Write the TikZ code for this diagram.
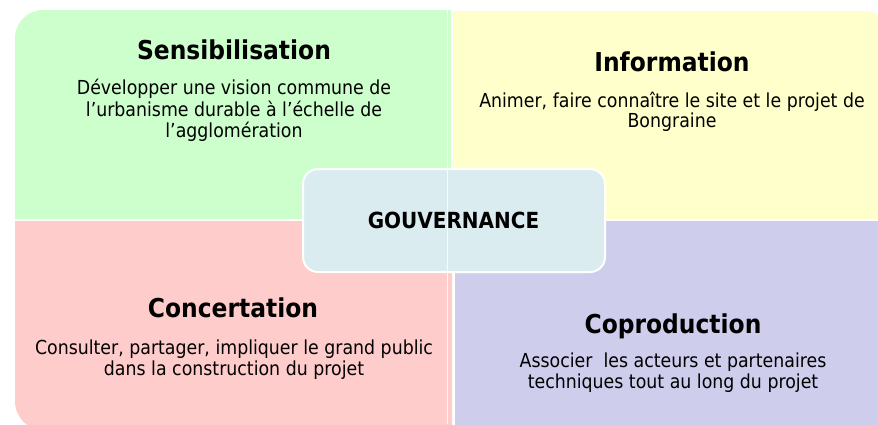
\documentclass[tikz,border=0pt]{standalone}
\usepackage{fontspec}
\setmainfont{DejaVu Sans}[FakeStretch=0.9]
\definecolor{qgreen}{HTML}{CCFFCC}
\definecolor{qyellow}{HTML}{FFFFCC}
\definecolor{qred}{HTML}{FFCCCC}
\definecolor{qpurple}{HTML}{CFCDEC}
\definecolor{qcenter}{HTML}{DAECEF}
\tikzset{
  title/.style={font=\bfseries\fontsize{26}{30}\selectfont, inner sep=0pt, anchor=base},
  body/.style={font=\fontsize{19.3}{21}\selectfont, inner sep=0pt, align=center, anchor=base},
  govbox/.style={draw=white, line width=2pt, fill=qcenter, rounded corners=15pt,
    minimum width=302pt, minimum height=103pt, inner sep=0pt},
  govtext/.style={font=\bfseries\fontsize{22.2}{24}\selectfont, inner sep=0pt, anchor=base},
}
\begin{document}
\begin{tikzpicture}[x=1pt,y=-1pt]
\useasboundingbox (0,0) rectangle (878,424);
\clip (0,0) rectangle (878,424);
\fill[white] (0,0) rectangle (878,424);
% quadrants
\fill[qgreen] (15,219) [rounded corners=28pt]-- (15,10) [sharp corners]-- (451,10) -- (451,219) -- cycle;
\fill[qyellow] (453,11) [rounded corners=15pt]-- (881,11) [sharp corners]-- (881,219) -- (453,219) -- cycle;
\fill[qred] (15,221) -- (452,221) -- (452,431) [rounded corners=30pt]-- (15,431) [sharp corners]-- cycle;
\fill[qpurple] (455,221) rectangle (890,440);
% centre
\node[govbox] (gov) at (454,220.5) {};
\draw[white, opacity=0.8, line width=0.8pt] (447,10) -- (447,424);
\node[govtext] (govlabel) at (453.5,228) {GOUVERNANCE};
% texts
\node[title] (t1) at (234,59) {Sensibilisation};
\node[body] (b1a) at (234,94) {Développer une vision commune de};
\node[body] (b1b) at (234,116) {l’urbanisme durable à l’échelle de};
\node[body] (b1c) at (234,137) {l’agglomération};
\node[title] (t2) at (672,71) {Information};
\node[body] (b2a) at (672,107) {Animer, faire connaître le site et le projet de};
\node[body] (b2b) at (672,127) {Bongraine};
\node[title] (t3) at (233,317) {Concertation};
\node[body] (b3a) at (234,354) {Consulter, partager, impliquer le grand public};
\node[body] (b3b) at (234,375) {dans la construction du projet};
\node[title] (t4) at (673,333) {Coproduction};
\node[body] (b4a) at (673,367) {Associer\ \ les acteurs et partenaires};
\node[body] (b4b) at (673,388) {techniques tout au long du projet};
\end{tikzpicture}
\end{document}
